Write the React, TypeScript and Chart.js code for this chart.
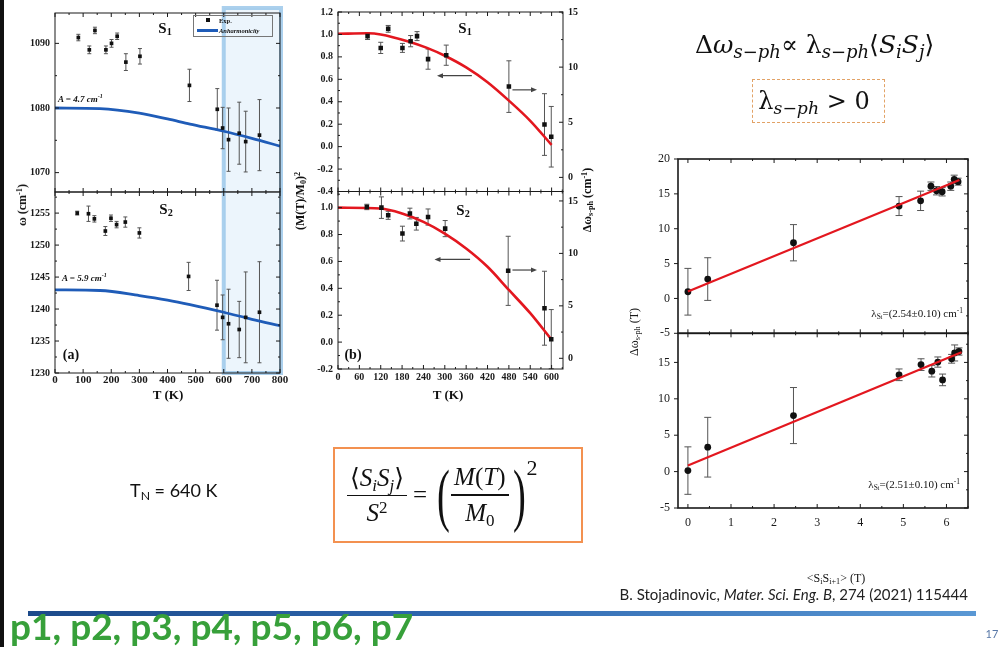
import React, { useEffect, useRef } from "react";
import { Chart, registerables } from "chart.js";

Chart.register(...registerables);

const SERIF = "'Liberation Serif', 'Times New Roman', 'DejaVu Serif', serif";
const MATH = "'DejaVu Serif', 'Liberation Serif', serif";
const SANS = "Lato, 'Open Sans', 'Liberation Sans', sans-serif";

// ---------- panel (a), S1 ----------
const A1_T = [83, 122, 142, 181, 201, 221, 252, 302, 478, 577, 596, 617, 655, 678, 727];
const A1_W = [1090.9, 1089.0, 1092.0, 1089.0, 1090.0, 1091.1, 1087.1, 1088.0, 1083.5, 1079.8, 1076.9, 1075.1, 1076.1, 1074.8, 1075.8];
const A1_ERR = [0.5, 0.6, 0.5, 0.6, 0.6, 0.5, 1.3, 1.2, 2.5, 3.2, 3.2, 4.9, 4.8, 4.7, 5.5];
const A1_FIT_T = [0, 160, 300, 400, 480, 600, 700, 800];
const A1_FIT_W = [1080.0, 1079.9, 1079.2, 1078.3, 1077.5, 1076.4, 1075.3, 1074.1];

// ---------- panel (a), S2 ----------
const A2_T = [79, 119, 140, 179, 199, 219, 250, 300, 475, 576, 596, 617, 655, 678, 727];
const A2_W = [1255.0, 1254.9, 1254.1, 1252.2, 1254.2, 1253.2, 1253.6, 1251.9, 1245.1, 1240.6, 1238.7, 1237.7, 1236.8, 1238.7, 1239.5];
const A2_ERR = [0.3, 1.2, 0.5, 0.7, 0.5, 0.5, 0.8, 0.8, 2.2, 3.9, 3.5, 5.4, 4.4, 7.1, 7.9];
const A2_FIT_T = [0, 160, 300, 400, 480, 600, 700, 800];
const A2_FIT_W = [1243.0, 1242.9, 1242.1, 1241.4, 1240.7, 1239.5, 1238.4, 1237.4];

// ---------- panel (b), S1 ----------
const B1_T = [83, 120, 141, 181, 204, 222, 253, 304, 480, 580, 599];
const B1_M = [0.985, 0.88, 1.05, 0.88, 0.94, 0.985, 0.78, 0.815, 0.535, 0.197, 0.088];
const B1_ERR = [0.03, 0.05, 0.03, 0.04, 0.05, 0.04, 0.09, 0.09, 0.23, 0.275, 0.27];
const B1_FIT_T = [0, 83, 120, 200, 250, 300, 360, 420, 480, 540, 600];
const B1_FIT_M = [1.006, 1.01, 1.0, 0.935, 0.88, 0.81, 0.706, 0.574, 0.41, 0.23, 0.015];
const B1_ARROWS = [
  { from: 376, to: 278, at: 0.632 },
  { from: 490, to: 559, at: 0.506 },
];

// ---------- panel (b), S2 ----------
const B2_T = [81, 122, 141, 181, 202, 220, 253, 301, 478, 580, 599];
const B2_M = [1.005, 1.0, 0.943, 0.807, 0.956, 0.88, 0.93, 0.844, 0.53, 0.252, 0.022];
const B2_ERR = [0.02, 0.08, 0.03, 0.055, 0.04, 0.047, 0.06, 0.06, 0.257, 0.275, 0.22];
const B2_FIT_T = [0, 120, 180, 240, 300, 360, 420, 480, 540, 600];
const B2_FIT_M = [1.0, 0.993, 0.956, 0.894, 0.807, 0.696, 0.56, 0.388, 0.215, 0.017];
const B2_ARROWS = [
  { from: 371, to: 271, at: 0.615 },
  { from: 490, to: 559, at: 0.536 },
];

// ---------- right panel, top ----------
const R1_S = [0, 0.46, 2.45, 4.9, 5.4, 5.64, 5.77, 5.9, 6.1, 6.18, 6.27];
const R1_D = [0.96, 2.78, 7.99, 13.25, 14.0, 16.1, 15.45, 15.3, 16.1, 17.08, 16.75];
const R1_ERR = [3.35, 3.06, 2.6, 1.36, 1.39, 0.6, 0.6, 0.6, 0.6, 0.6, 0.5];
const R1_FIT_S = [0, 6.3];
const R1_FIT_D = [1.0, 17.0];

// ---------- right panel, bottom ----------
const R2_S = [0, 0.46, 2.45, 4.9, 5.41, 5.66, 5.8, 5.91, 6.12, 6.19, 6.29];
const R2_D = [0.14, 3.35, 7.7, 13.3, 14.7, 13.8, 15.05, 12.6, 15.5, 16.3, 16.5];
const R2_ERR = [3.26, 4.1, 3.85, 0.8, 0.8, 0.8, 0.7, 0.8, 0.6, 1.1, 0.5];
const R2_FIT_S = [0, 6.35];
const R2_FIT_D = [0.83, 16.4];

const fontA = { family: SERIF, size: 10, weight: "bold" };
const fontAx = { family: SERIF, size: 11, weight: "bold" };
const fontB = { family: SERIF, size: 10, weight: "bold" };
const fontR = { family: SERIF, size: 12, weight: "normal" };
const fmt1 = (v: number) => v.toFixed(1);
const fmt0 = (v: number) => String(Math.round(v));

const BLUE = "#1f5cb8";
const RED = "#e3171f";

const AXW = 50; // box width reserved for left tick labels
const AXW2 = 40; // box width reserved for right tick labels
const AXH = 28; // box height reserved for bottom tick labels

const SPECS: any[] = [
  {
    rect: [55, 13, 280, 192],
    x: { min: 0, max: 800, step: 100, labels: false },
    y: { min: 1067, max: 1094.7, step: 10, labels: true, font: fontA, pad: 5, fmt: fmt0 },
    ticks: [
      { id: "x", sides: ["top", "bottom"], len: 4, minor: true },
      { id: "y", sides: ["left", "right"], len: 4, minor: true },
    ],
    frame: 1,
    band: { from: 600, to: 800, ext: 5, edge: "top" },
    series: [{ x: A1_T, y: A1_W, err: A1_ERR, style: "rect", r: 2.6, cap: 2 }],
    lines: [{ x: A1_FIT_T, y: A1_FIT_W, color: BLUE, width: 2.8 }],
  },
  {
    rect: [55, 192, 280, 373],
    x: { min: 0, max: 800, step: 100, labels: true, font: fontAx, pad: 1, fmt: fmt0 },
    y: { min: 1230, max: 1258.3, step: 5, labels: true, font: fontA, pad: 5, fmt: fmt0 },
    ticks: [
      { id: "x", sides: ["top", "bottom"], len: 4, minor: true },
      { id: "y", sides: ["left", "right"], len: 4, minor: true },
    ],
    frame: 1,
    band: { from: 600, to: 800, ext: 0, edge: "bottom" },
    series: [{ x: A2_T, y: A2_W, err: A2_ERR, style: "rect", r: 2.6, cap: 2 }],
    lines: [{ x: A2_FIT_T, y: A2_FIT_W, color: BLUE, width: 2.8 }],
  },
  {
    rect: [338, 12, 563, 191.5],
    x: { min: 0, max: 632, step: 60, labels: false },
    y: { min: -0.4, max: 1.2, step: 0.2, labels: true, font: fontB, pad: 5, fmt: fmt1 },
    y2: { min: -1.28, max: 15, step: 5, labels: true, font: fontB, pad: 5, fmt: fmt0 },
    ticks: [
      { id: "x", sides: ["top", "bottom"], len: 4, minor: true },
      { id: "y", sides: ["left"], len: 4, minor: true },
      { id: "y2", sides: ["right"], len: 4, minor: true },
    ],
    frame: 1,
    series: [{ x: B1_T, y: B1_M, err: B1_ERR, style: "rect", r: 3.2, cap: 2.5 }],
    lines: [{ x: B1_FIT_T, y: B1_FIT_M, color: RED, width: 2.6 }],
    arrows: B1_ARROWS,
  },
  {
    rect: [338, 191.5, 563, 369],
    x: { min: 0, max: 632, step: 60, labels: true, font: fontB, pad: 2, fmt: fmt0 },
    y: { min: -0.2, max: 1.12, step: 0.2, labels: true, font: fontB, pad: 5, fmt: fmt1 },
    y2: { min: -1.02, max: 15.9, step: 5, labels: true, font: fontB, pad: 5, fmt: fmt0 },
    ticks: [
      { id: "x", sides: ["top", "bottom"], len: 4, minor: true },
      { id: "y", sides: ["left"], len: 4, minor: true },
      { id: "y2", sides: ["right"], len: 4, minor: true },
    ],
    frame: 1,
    series: [{ x: B2_T, y: B2_M, err: B2_ERR, style: "rect", r: 3.2, cap: 2.5 }],
    lines: [{ x: B2_FIT_T, y: B2_FIT_M, color: RED, width: 2.6 }],
    arrows: B2_ARROWS,
  },
  {
    rect: [678, 159, 968, 333.3],
    x: { min: -0.23, max: 6.5, step: 1, labels: false },
    y: { min: -5, max: 20, step: 5, labels: true, font: fontR, pad: 8, fmt: fmt0 },
    ticks: [
      { id: "x", sides: ["top", "bottom"], len: 4, minor: true },
      { id: "y", sides: ["left"], len: 4, minor: false, out: true },
      { id: "y", sides: ["right"], len: 4, minor: true },
    ],
    frame: 1.6,
    series: [{ x: R1_S, y: R1_D, err: R1_ERR, style: "circle", r: 3.4, cap: 3.5 }],
    lines: [{ x: R1_FIT_S, y: R1_FIT_D, color: RED, width: 2.2, front: true }],
  },
  {
    rect: [678, 333.3, 968, 508],
    x: { min: -0.23, max: 6.5, step: 1, labels: true, font: fontR, pad: 8, fmt: fmt0 },
    y: { min: -5, max: 19, step: 5, labels: true, font: fontR, pad: 8, fmt: fmt0 },
    ticks: [
      { id: "x", sides: ["top", "bottom"], len: 4, minor: true },
      { id: "y", sides: ["left"], len: 4, minor: false, out: true },
      { id: "y", sides: ["right"], len: 4, minor: true },
    ],
    frame: 1.6,
    series: [{ x: R2_S, y: R2_D, err: R2_ERR, style: "circle", r: 3.4, cap: 3.5 }],
    lines: [{ x: R2_FIT_S, y: R2_FIT_D, color: RED, width: 2.2, front: true }],
  },
];

function makeScale(axis: string, s: any, position: string) {
  return {
    type: "linear",
    axis: axis === "x" ? "x" : "y",
    position,
    min: s.min,
    max: s.max,
    ticks: {
      display: !!s.labels,
      stepSize: s.step,
      includeBounds: false,
      autoSkip: false,
      maxRotation: 0,
      minRotation: 0,
      padding: s.pad ?? 3,
      font: s.font || fontA,
      color: "#1a1a1a",
      callback: (v: number) => (s.fmt ? s.fmt(v) : String(v)),
    },
    grid: { display: false, drawTicks: false, tickLength: 0 },
    border: { display: false },
    afterFit: (sc: any) => {
      if (axis === "x") sc.height = AXH;
      else if (axis === "y") sc.width = AXW;
      else sc.width = AXW2;
    },
  };
}

function makePlugin(spec: any) {
  return {
    id: "panelDeco",
    beforeDatasetsDraw(chart: any) {
      const { ctx, chartArea: a, scales } = chart;
      if (spec.band) {
        const b = spec.band;
        const x0 = scales.x.getPixelForValue(b.from);
        const x1 = scales.x.getPixelForValue(b.to) + 1;
        const top = a.top - b.ext;
        const bottom = a.bottom;
        ctx.save();
        ctx.fillStyle = "rgba(200,226,246,0.35)";
        ctx.fillRect(x0, top, x1 - x0, bottom - top);
        ctx.strokeStyle = "rgba(150,196,232,0.8)";
        ctx.lineWidth = 4;
        ctx.beginPath();
        ctx.moveTo(x0, top);
        ctx.lineTo(x0, bottom);
        ctx.moveTo(x1, top);
        ctx.lineTo(x1, bottom);
        if (b.edge === "top") {
          ctx.moveTo(x0 - 2, top);
          ctx.lineTo(x1 + 2, top);
        } else {
          ctx.moveTo(x0 - 2, bottom);
          ctx.lineTo(x1 + 2, bottom);
        }
        ctx.stroke();
        ctx.restore();
      }
      // error bars
      ctx.save();
      ctx.strokeStyle = "#555";
      ctx.lineWidth = 1;
      ctx.beginPath();
      for (const s of spec.series) {
        s.x.forEach((xv: number, i: number) => {
          const px = scales.x.getPixelForValue(xv);
          const yt = scales.y.getPixelForValue(s.y[i] + s.err[i]);
          const yb = scales.y.getPixelForValue(s.y[i] - s.err[i]);
          ctx.moveTo(px, yt);
          ctx.lineTo(px, yb);
          ctx.moveTo(px - s.cap, yt);
          ctx.lineTo(px + s.cap, yt);
          ctx.moveTo(px - s.cap, yb);
          ctx.lineTo(px + s.cap, yb);
        });
      }
      ctx.stroke();
      ctx.restore();
    },
    afterDatasetsDraw(chart: any) {
      const { ctx, scales } = chart;
      if (!spec.arrows) return;
      ctx.save();
      ctx.strokeStyle = "#444";
      ctx.fillStyle = "#444";
      ctx.lineWidth = 1.2;
      for (const ar of spec.arrows) {
        const x0 = scales.x.getPixelForValue(ar.from);
        const x1 = scales.x.getPixelForValue(ar.to);
        const y = scales.y.getPixelForValue(ar.at);
        const dir = x1 > x0 ? 1 : -1;
        ctx.beginPath();
        ctx.moveTo(x0, y);
        ctx.lineTo(x1 - dir * 3, y);
        ctx.stroke();
        ctx.beginPath();
        ctx.moveTo(x1, y);
        ctx.lineTo(x1 - dir * 6, y - 2.5);
        ctx.lineTo(x1 - dir * 6, y + 2.5);
        ctx.closePath();
        ctx.fill();
      }
      ctx.restore();
    },
    afterDraw(chart: any) {
      const { ctx, chartArea: a } = chart;
      ctx.save();
      ctx.strokeStyle = "#1a1a1a";
      ctx.lineWidth = spec.frame;
      ctx.strokeRect(a.left, a.top, a.right - a.left, a.bottom - a.top);
      ctx.lineWidth = 1;
      for (const t of spec.ticks) {
        const sc = chart.scales[t.id];
        const vals = sc.ticks.map((k: any) => k.value);
        const all: number[][] = vals.map((v: number) => [v, t.len]);
        if (t.minor && vals.length > 1) {
          const st = vals[1] - vals[0];
          for (let v = vals[0] - st / 2; v <= sc.max; v += st) if (v >= sc.min) all.push([v, t.len / 2]);
        }
        ctx.beginPath();
        for (const [v, len] of all) {
          const p = sc.getPixelForValue(v);
          const d = t.out ? -len : len;
          for (const side of t.sides) {
            if (side === "left") { ctx.moveTo(a.left, p); ctx.lineTo(a.left + d, p); }
            if (side === "right") { ctx.moveTo(a.right, p); ctx.lineTo(a.right - d, p); }
            if (side === "top") { ctx.moveTo(p, a.top); ctx.lineTo(p, a.top + d); }
            if (side === "bottom") { ctx.moveTo(p, a.bottom); ctx.lineTo(p, a.bottom - d); }
          }
        }
        ctx.stroke();
      }
      ctx.restore();
    },
  };
}

function makeChart(canvas: HTMLCanvasElement, spec: any) {
  const [L, T, R, B] = spec.rect;
  const scales: any = {
    x: makeScale("x", spec.x, "bottom"),
    y: makeScale("y", spec.y, "left"),
  };
  if (spec.y2) scales.y2 = makeScale("y2", spec.y2, "right");
  const datasets: any[] = [];
  for (const s of spec.series) {
    datasets.push({
      type: "scatter",
      data: s.x.map((xv: number, i: number) => ({ x: xv, y: s.y[i] })),
      pointStyle: s.style,
      pointRadius: s.r,
      backgroundColor: "#111",
      borderColor: "#111",
      borderWidth: 0,
      showLine: false,
      xAxisID: "x",
      yAxisID: "y",
      order: 1,
    });
  }
  for (const l of spec.lines) {
    datasets.push({
      type: "scatter",
      data: l.x.map((xv: number, i: number) => ({ x: xv, y: l.y[i] })),
      showLine: true,
      pointRadius: 0,
      borderColor: l.color,
      backgroundColor: l.color,
      borderWidth: l.width,
      cubicInterpolationMode: "monotone",
      fill: false,
      xAxisID: "x",
      yAxisID: "y",
      order: l.front ? 0 : 2,
    });
  }
  return new Chart(canvas, {
    type: "scatter",
    data: { datasets },
    options: {
      animation: false,
      responsive: false,
      maintainAspectRatio: false,
      events: [],
      layout: {
        padding: {
          left: L - AXW,
          top: T,
          right: 999 - R - (spec.y2 ? AXW2 : 0),
          bottom: 647 - B - AXH,
        },
      },
      plugins: { legend: { display: false }, tooltip: { enabled: false } },
      scales,
    },
    plugins: [makePlugin(spec)],
  } as any);
}

const sub: any = { fontSize: "0.68em", verticalAlign: "-0.28em", lineHeight: 0 };
const sup: any = { fontSize: "0.68em", verticalAlign: "0.5em", lineHeight: 0 };
const msub: any = { fontSize: "0.72em", verticalAlign: "-0.3em", lineHeight: 0 };

function Txt(p: any) {
  const tx = p.anchor === "left" ? "0" : p.anchor === "right" ? "-100%" : "-50%";
  return (
    <div
      style={{
        position: "absolute",
        left: p.x,
        top: p.y,
        transform: `translate(${tx},-50%)${p.rotate ? ` rotate(${p.rotate}deg)` : ""}`,
        fontFamily: p.family || SERIF,
        fontSize: p.size,
        fontWeight: p.bold ? "bold" : "normal",
        fontStyle: p.italic ? "italic" : "normal",
        color: p.color || "#111",
        whiteSpace: "nowrap",
        lineHeight: 1,
      }}
    >
      {p.children}
    </div>
  );
}

function Frac({ num, den }: any) {
  return (
    <span style={{ display: "inline-flex", flexDirection: "column", alignItems: "center", verticalAlign: "middle" }}>
      <span style={{ padding: "0 3px 3px" }}>{num}</span>
      <span style={{ alignSelf: "stretch", height: 1.5, background: "#111" }} />
      <span style={{ padding: "3px 3px 0" }}>{den}</span>
    </span>
  );
}

function Paren({ ch }: any) {
  return (
    <span style={{ display: "inline-block", width: 18, textAlign: "center", fontSize: 70, lineHeight: 1, transform: "scaleX(0.55)", fontWeight: 300 }}>
      {ch}
    </span>
  );
}

export default function App() {
  const box = useRef<HTMLDivElement>(null);
  useEffect(() => {
    const canvases = Array.from(box.current!.querySelectorAll("canvas")) as HTMLCanvasElement[];
    const charts = SPECS.map((s, i) => makeChart(canvases[i], s));
    return () => charts.forEach((c) => c.destroy());
  }, []);

  return (
    <div
      ref={box}
      style={{ position: "absolute", left: 0, top: 0, width: 999, height: 647, background: "#fff", overflow: "hidden", fontFamily: SERIF }}
    >
      {SPECS.map((_, i) => (
        <canvas key={i} width={999} height={647} style={{ position: "absolute", left: 0, top: 0, width: 999, height: 647 }} />
      ))}

      {/* slide left border */}
      <div style={{ position: "absolute", left: 0, top: 0, width: 4, height: 647, background: "#111" }} />

      {/* ---------- panel (a) texts ---------- */}
      <Txt x={165} y={28} size={15} bold>S<span style={sub}>1</span></Txt>
      <Txt x={166} y={209} size={15} bold>S<span style={sub}>2</span></Txt>
      <Txt x={58} y={99} size={9} bold italic anchor="left">A = 4.7 cm<span style={sup}>-1</span></Txt>
      <Txt x={62} y={278} size={9} bold italic anchor="left">A = 5.9 cm<span style={sup}>-1</span></Txt>
      <Txt x={71} y={355} size={14} bold>(a)</Txt>
      <Txt x={22} y={205} size={12} bold rotate={-90}>ω (cm<span style={sup}>-1</span>)</Txt>
      <Txt x={168} y={394} size={13} bold>T (K)</Txt>
      <div style={{ position: "absolute", left: 193, top: 15, width: 80, height: 22, border: "1px solid #777", boxSizing: "border-box" }} />
      <div style={{ position: "absolute", left: 206, top: 18, width: 4, height: 4, background: "#111" }} />
      <Txt x={219} y={20.5} size={6.5} bold anchor="left">Exp.</Txt>
      <div style={{ position: "absolute", left: 197, top: 29, width: 21, height: 3, background: BLUE }} />
      <Txt x={219} y={30.5} size={6.5} bold italic anchor="left">Anharmonicity</Txt>

      {/* ---------- panel (b) texts ---------- */}
      <Txt x={465} y={28} size={15} bold>S<span style={sub}>1</span></Txt>
      <Txt x={463} y={210} size={15} bold>S<span style={sub}>2</span></Txt>
      <Txt x={353} y={355} size={14} bold>(b)</Txt>
      <Txt x={300} y={201} size={12} bold rotate={-90}>(M(T)/M<span style={sub}>0</span>)<span style={sup}>2</span></Txt>
      <Txt x={587} y={200} size={12} bold rotate={-90}>Δω<span style={sub}>s-ph</span> (cm<span style={sup}>-1</span>)</Txt>
      <Txt x={448} y={394} size={13} bold>T (K)</Txt>

      {/* ---------- right panel texts ---------- */}
      <Txt x={634} y={332} size={12} rotate={-90}>Δω<span style={sub}>s-ph</span> (T)</Txt>
      <Txt x={836} y={578} size={12}>&lt;S<span style={sub}>i</span>S<span style={sub}>i+1</span>&gt; (T)</Txt>
      <Txt x={963} y={313} size={11} anchor="right">λ<span style={sub}>S<span style={{ fontSize: "0.8em" }}>i</span></span>=(2.54±0.10) cm<span style={sup}>-1</span></Txt>
      <Txt x={960} y={484} size={11} anchor="right">λ<span style={sub}>S<span style={{ fontSize: "0.8em" }}>i</span></span>=(2.51±0.10) cm<span style={sup}>-1</span></Txt>

      {/* ---------- formulas ---------- */}
      <Txt x={695} y={44} size={25} anchor="left" family={MATH}>
        Δ<i>ω</i><span style={msub}><i>s</i>−<i>ph</i></span>∝ λ<span style={msub}><i>s</i>−<i>ph</i></span>⟨<i>S</i><span style={msub}><i>i</i></span><i>S</i><span style={msub}><i>j</i></span>⟩
      </Txt>
      <div style={{ position: "absolute", left: 752, top: 79, width: 133, height: 44, boxSizing: "border-box", border: "1px dashed #e2a266" }} />
      <Txt x={814} y={101} size={24} family={MATH}>
        λ<span style={msub}><i>s</i>−<i>ph</i></span> &gt; 0
      </Txt>

      <Txt x={130} y={490} size={18} family={SANS} anchor="left">
        T<span style={sub}>N</span> = 640 K
      </Txt>

      <div
        style={{
          position: "absolute", left: 333, top: 447, width: 250, height: 96, boxSizing: "border-box",
          border: "2px solid #f39150", display: "flex", alignItems: "center", paddingLeft: 12,
          fontFamily: SERIF, fontSize: 25, color: "#111", whiteSpace: "nowrap",
        }}
      >
        <Frac num={<span>⟨<i>S</i><span style={sub}><i>i</i></span><i>S</i><span style={sub}><i>j</i></span>⟩</span>} den={<span><i>S</i><span style={sup}>2</span></span>} />
        <span style={{ margin: "0 6px" }}>=</span>
        <Paren ch="(" />
        <Frac num={<span><i>M</i>(<i>T</i>)</span>} den={<span><i>M</i><span style={sub}>0</span></span>} />
        <Paren ch=")" />
        <span style={{ alignSelf: "flex-start", marginTop: 6, fontSize: 22 }}>2</span>
      </div>

      {/* ---------- footer ---------- */}
      <Txt x={968} y={594} size={15} family={SANS} anchor="right" color="#222">
        B. Stojadinovic, <i>Mater. Sci. Eng. B</i>, 274 (2021) 115444
      </Txt>
      <div
        style={{
          position: "absolute", left: 28, top: 611, width: 948, height: 5,
          background: "linear-gradient(to right, #1c4a8a, #2f68b0 45%, #5a98d4)",
        }}
      />
      <div
        style={{
          position: "absolute", left: 10, top: 607, fontFamily: SANS, fontWeight: "bold", fontSize: 37,
          color: "#37a03a", lineHeight: 1, whiteSpace: "nowrap",
        }}
      >
        p1, p2, p3, p4, p5, p6, p7
      </div>
      <Txt x={992} y={633} size={11} family={SANS} color="#5878a8">17</Txt>
    </div>
  );
}
